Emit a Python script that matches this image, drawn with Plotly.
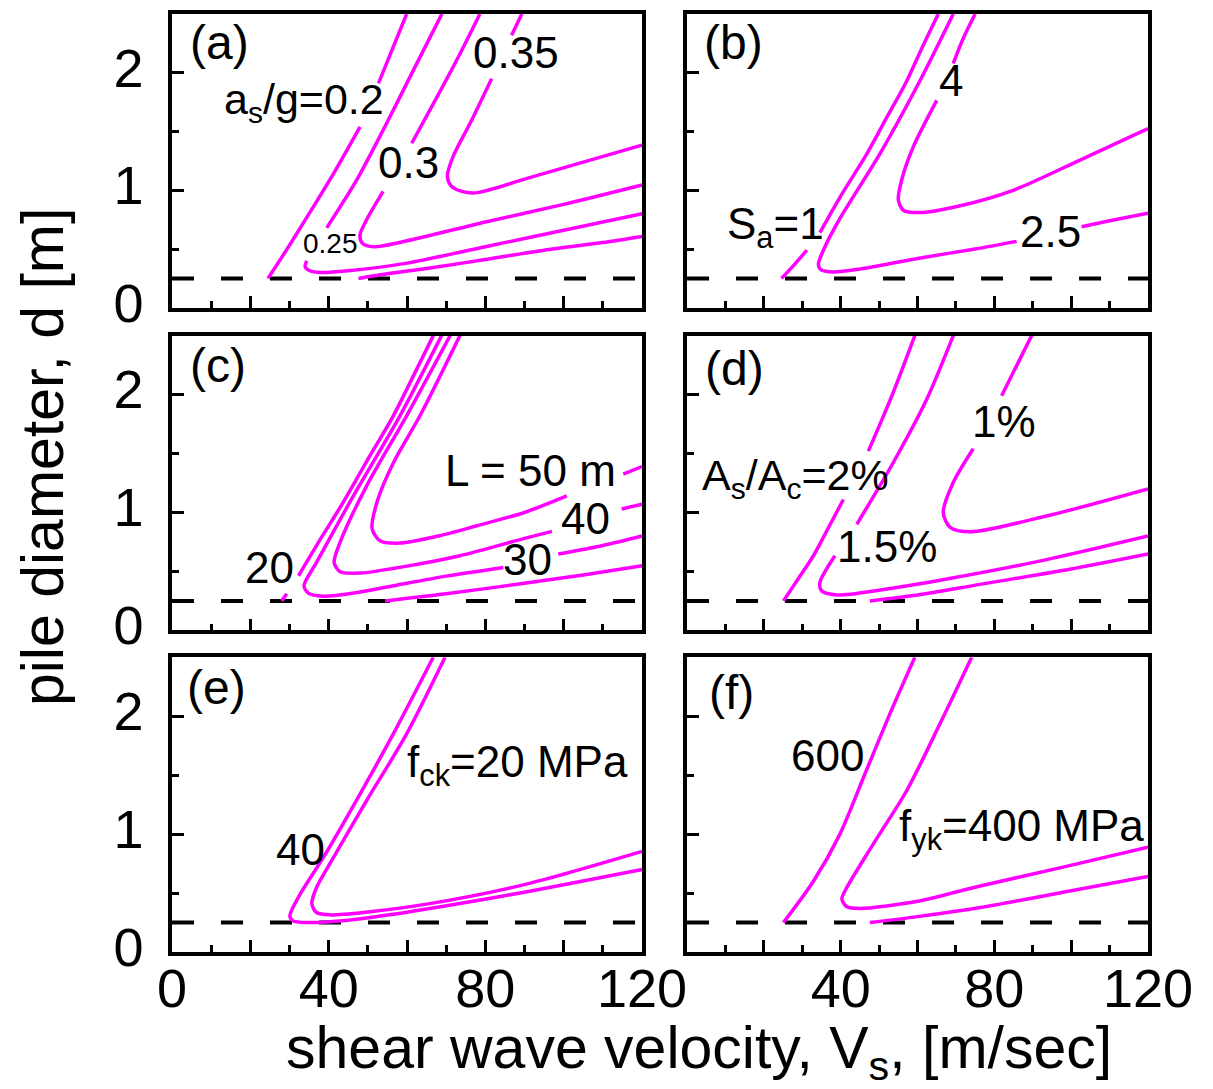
import plotly.graph_objects as go

MAGENTA = "#ff00ff"
FONT = "Liberation Sans, Arial, Helvetica, sans-serif"
D_MIN = 0.25  # minimum pile diameter (dashed line)

VS_RANGE = [0, 120]
D_RANGE = [0, 2.5]

# ---------------- (a) soil acceleration a_s/g ----------------
a020_vs = [24.5, 29.0, 33.5, 41.2, 48.0, None, 52.7, 59.9]
a020_d = [0.25, 0.48, 0.72, 1.14, 1.54, None, 1.91, 2.5]
a020r_vs = [47.6, 55.0, 65.0, 80.0, 95.0, 110.0, 120.0]
a020r_d = [0.25, 0.29, 0.335, 0.41, 0.49, 0.555, 0.607]
a025_vs = [68.9, 61.6, 54.8, 47.2, 39.5, None, 34.4, 34.0, 35.2, 38.0, 45.0, 60.0, 80.0, 100.0, 120.0]
a025_d = [2.5, 2.02, 1.57, 1.09, 0.68, None, 0.40, 0.35, 0.315, 0.30, 0.315, 0.38, 0.52, 0.66, 0.80]
a030_vs = [78.6, 73.5, 67.6, 61.2, None, 53.9, 49.7, 48.0, 48.6, 51.5, 60.0, 80.0, 100.0, 120.0]
a030_d = [2.5, 2.16, 1.79, 1.40, None, 0.99, 0.75, 0.62, 0.55, 0.52, 0.57, 0.73, 0.88, 1.045]
a035_vs = [89.3, 86.7, None, 81.6, 76.1, 71.8, 70.3, 71.2, 74.0, 78.0, 90.0, 105.0, 120.0]
a035_d = [2.5, 2.32, None, 1.95, 1.57, 1.29, 1.12, 1.04, 0.99, 0.98, 1.095, 1.24, 1.384]

# ---------------- (b) spectral amplification S_a ----------------
b1_vs = [24.6, 28.0, 31.2, None, 34.6, 40.0, 46.8, 52.0, 57.2, 61.0, 65.4]
b1_d = [0.25, 0.37, 0.49, None, 0.64, 0.95, 1.31, 1.62, 1.93, 2.2, 2.5]
b25_vs = [69.3, 60.6, 50.2, 39.8, 35.5, 34.2, 34.8, 38.1, 45.0, 60.0, 75.0, 85.8, None, 102.7, 110.0, 120.0]
b25_d = [2.5, 1.93, 1.31, 0.76, 0.49, 0.37, 0.325, 0.305, 0.33, 0.42, 0.50, 0.565, None, 0.69, 0.74, 0.805]
b4_vs = [75.0, 72.0, 69.3, None, 65.0, 58.9, 55.9, 55.0, 56.3, 60.6, 70.0, 84.9, 102.3, 120.0]
b4_d = [2.5, 2.3, 2.08, None, 1.765, 1.37, 1.09, 0.92, 0.83, 0.81, 0.86, 1.0, 1.257, 1.525]

# ---------------- (c) pile length L ----------------
c20_vs = [28.0, 29.3, None, 32.3, 38.0, 43.7, 50.0, 56.5, 61.5, 66.7]
c20_d = [0.25, 0.31, None, 0.463, 0.78, 1.085, 1.45, 1.82, 2.15, 2.5]
c20r_vs = [54.4, 70.0, 90.0, 105.0, 120.0]
c20r_d = [0.25, 0.31, 0.40, 0.47, 0.548]
c30_vs = [68.8, 58.2, 46.3, 36.9, 33.7, 34.8, 38.6, 47.0, 56.5, 70.0, 84.6, None, 98.6, 110.0, 120.0]
c30_d = [2.5, 1.82, 1.14, 0.576, 0.378, 0.316, 0.29, 0.32, 0.378, 0.46, 0.534, None, 0.647, 0.72, 0.80]
c40_vs = [71.0, 59.9, 49.7, 42.9, 41.4, 42.9, 48.0, 60.0, 73.5, 90.0, 97.0, None, 114.8, 120.0]
c40_d = [2.5, 1.82, 1.226, 0.746, 0.576, 0.497, 0.486, 0.545, 0.633, 0.78, 0.84, None, 1.03, 1.07]
c50_vs = [73.5, 63.3, 56.5, 52.3, 51.1, 53.1, 58.2, 68.0, 77.8, 90.0, 100.8, None, 115.2, 120.0]
c50_d = [2.5, 1.82, 1.42, 1.085, 0.86, 0.76, 0.74, 0.80, 0.887, 1.0, 1.14, None, 1.325, 1.39]

# ---------------- (d) reinforcement ratio A_s/A_c ----------------
d2_vs = [25.1, 29.0, 32.9, 36.8, 40.7, None, 47.2, 50.5, 53.7, 59.3]
d2_d = [0.25, 0.44, 0.633, 0.87, 1.11, None, 1.52, 1.77, 2.02, 2.5]
d2r_vs = [47.6, 60.0, 76.3, 100.0, 120.0]
d2r_d = [0.25, 0.30, 0.39, 0.52, 0.647]
d15_vs = [69.3, 62.4, 53.7, 44.2, None, 38.5, 34.6, 35.0, 39.0, 50.0, 67.6, 93.6, 120.0]
d15_d = [2.5, 1.96, 1.424, 0.90, None, 0.633, 0.407, 0.336, 0.30, 0.34, 0.435, 0.60, 0.80]
d1_vs = [89.7, 81.9, None, 74.5, 69.3, 66.7, 68.5, 73.7, 93.6, 120.0]
d1_d = [2.5, 1.99, None, 1.54, 1.254, 1.0, 0.873, 0.836, 0.97, 1.2]

# ---------------- (e) concrete strength f_ck ----------------
e40_vs = [66.7, 56.5, 48.0, 38.6, 32.7, 30.1, 30.9, 34.4, 45.0, 56.5, 82.0, 100.0, 120.0]
e40_d = [2.5, 1.85, 1.34, 0.80, 0.49, 0.306, 0.264, 0.25, 0.27, 0.32, 0.46, 0.57, 0.70]
e20_vs = [69.7, 59.9, 49.7, 41.2, 36.9, 35.7, 36.9, 40.3, 50.0, 65.0, 90.5, 120.0]
e20_d = [2.5, 1.85, 1.285, 0.80, 0.547, 0.41, 0.335, 0.315, 0.34, 0.406, 0.576, 0.853]

# ---------------- (f) steel yield strength f_yk ----------------
f600_vs = [25.1, 32.9, 39.8, 46.3, 52.8, 59.3]
f600_d = [0.25, 0.60, 1.0, 1.51, 2.02, 2.5]
f600r_vs = [47.6, 60.0, 76.3, 100.0, 120.0]
f600r_d = [0.25, 0.30, 0.377, 0.52, 0.64]
f400_vs = [74.1, 65.9, 57.2, 48.5, 41.6, 40.3, 41.6, 45.0, 60.0, 76.3, 97.9, 120.0]
f400_d = [2.5, 1.94, 1.37, 0.917, 0.547, 0.45, 0.383, 0.369, 0.43, 0.56, 0.72, 0.888]

panel_curves = [
    [(a020_vs, a020_d), (a020r_vs, a020r_d), (a025_vs, a025_d), (a030_vs, a030_d), (a035_vs, a035_d)],
    [(b1_vs, b1_d), (b25_vs, b25_d), (b4_vs, b4_d)],
    [(c20_vs, c20_d), (c20r_vs, c20r_d), (c30_vs, c30_d), (c40_vs, c40_d), (c50_vs, c50_d)],
    [(d2_vs, d2_d), (d2r_vs, d2r_d), (d15_vs, d15_d), (d1_vs, d1_d)],
    [(e40_vs, e40_d), (e20_vs, e20_d)],
    [(f600_vs, f600_d), (f600r_vs, f600r_d), (f400_vs, f400_d)],
]

# curve labels: (text, vs, d, xanchor, size)
panel_labels = [
    [("(a)", 4.0, 2.26, "left", 48), ("a<sub>s</sub>/g=0.2", 12.8, 1.75, "left", 43),
     ("0.3", 60.4, 1.24, "center", 44), ("0.35", 87.8, 2.17, "center", 44),
     ("0.25", 40.5, 0.55, "center", 28)],
    [("(b)", 3.8, 2.26, "left", 48), ("4", 68.6, 1.93, "center", 44),
     ("S<sub>a</sub>=1", 9.9, 0.69, "left", 44), ("2.5", 94.5, 0.65, "center", 44)],
    [("(c)", 4.1, 2.25, "left", 48), ("L = 50 m", 91.6, 1.36, "center", 44),
     ("40", 105.6, 0.947, "center", 44), ("30", 90.8, 0.60, "center", 44),
     ("20", 24.8, 0.53, "center", 44)],
    [("(d)", 4.2, 2.22, "left", 48), ("A<sub>s</sub>/A<sub>c</sub>=2%", 3.4, 1.29, "left", 43),
     ("1%", 82.5, 1.77, "center", 44), ("1.5%", 52.1, 0.714, "center", 44)],
    [("(e)", 3.3, 2.24, "left", 48), ("f<sub>ck</sub>=20 MPa", 59.5, 1.587, "left", 44),
     ("40", 32.7, 0.87, "center", 44)],
    [("(f)", 5.2, 2.2, "left", 48), ("600", 36.6, 1.67, "center", 44),
     ("f<sub>yk</sub>=400 MPa", 54.7, 1.043, "left", 44)],
]

X_TICKS = [0, 20, 40, 60, 80, 100, 120]
X_LABELS_LEFT = [0, 40, 80, 120]
X_LABELS_RIGHT = [40, 80, 120]
Y_TICKS = [0, 1, 2]

col_domains = [[0.0, 0.4816], [0.5277, 1.0]]
row_domains = [[0.6868, 1.0], [0.3429, 0.6571], [0.0, 0.3142]]

fig = go.Figure()
layout = {}

tick_font = dict(family=FONT, size=54, color="black")

for i, curves in enumerate(panel_curves):
    row, col = divmod(i, 2)
    n = "" if i == 0 else str(i + 1)
    xref, yref = "x" + n, "y" + n
    for vs, d in curves:
        fig.add_trace(go.Scatter(
            x=vs, y=d, xaxis=xref, yaxis=yref, mode="lines",
            line=dict(color=MAGENTA, width=3.5, shape="spline", smoothing=0.8),
            showlegend=False, hoverinfo="skip"))
    common = dict(
        showline=True, linecolor="black", linewidth=3.5, mirror=True,
        ticks="inside", tickwidth=3, tickcolor="black", ticklen=12,
        showgrid=False, zeroline=False, tickfont=tick_font,
    )
    layout["xaxis" + n] = dict(
        common, domain=col_domains[col], range=VS_RANGE, anchor=yref,
        tickmode="array", tickvals=X_TICKS, showticklabels=False,
        minor=dict(ticks="inside", tick0=0, dtick=10, ticklen=7, tickwidth=3, tickcolor="black"),
    )
    layout["yaxis" + n] = dict(
        common, domain=row_domains[row], range=D_RANGE, anchor=xref,
        tickmode="array", tickvals=Y_TICKS,
        showticklabels=(col == 0), ticklabelstandoff=14, ticklabelshift=-5,
        minor=dict(ticks="inside", tick0=0, dtick=0.5, ticklen=7, tickwidth=3, tickcolor="black"),
    )
    fig.add_shape(type="line", xref=xref + " domain", yref=yref, x0=0, x1=1,
                  y0=D_MIN, y1=D_MIN, layer="below",
                  line=dict(color="black", width=4, dash="22px,27px"))
    for text, vs, d, xa, size in panel_labels[i]:
        fig.add_annotation(x=vs, y=d, xref=xref, yref=yref, text=text,
                           showarrow=False, xanchor=xa, yanchor="middle",
                           font=dict(family=FONT, size=size, color="black"))

# velocity labels of the bottom row sit on overlaid label-only axes
for k, (base, yref, vals) in enumerate([("x5", "y5", X_LABELS_LEFT), ("x6", "y6", X_LABELS_RIGHT)]):
    name = "xaxis" + str(7 + k)
    layout[name] = dict(
        overlaying=base, anchor=yref, side="bottom", range=VS_RANGE,
        tickmode="array", tickvals=vals, ticks="", showline=False,
        showgrid=False, zeroline=False, tickfont=tick_font, ticklabelstandoff=0,
    )
    fig.add_trace(go.Scatter(x=[], y=[], xaxis="x" + str(7 + k), yaxis=yref,
                             showlegend=False, hoverinfo="skip"))

fig.add_annotation(text="shear wave velocity, V<sub>s</sub>, [m/sec]", xref="paper", yref="paper",
                   x=0.54, y=-0.107, showarrow=False, xanchor="center", yanchor="middle",
                   font=dict(family=FONT, size=59, color="black"))
fig.add_annotation(text="pile diameter, d [m]", xref="paper", yref="paper",
                   x=-0.1322, y=0.5276, showarrow=False, textangle=-90,
                   xanchor="center", yanchor="middle",
                   font=dict(family=FONT, size=59, color="black"))

fig.update_layout(
    width=1213, height=1089,
    margin=dict(l=172, r=65, t=10, b=137),
    paper_bgcolor="white", plot_bgcolor="white",
    font=dict(family=FONT, color="black"),
    showlegend=False,
    **layout,
)

fig.write_html("out.html")
